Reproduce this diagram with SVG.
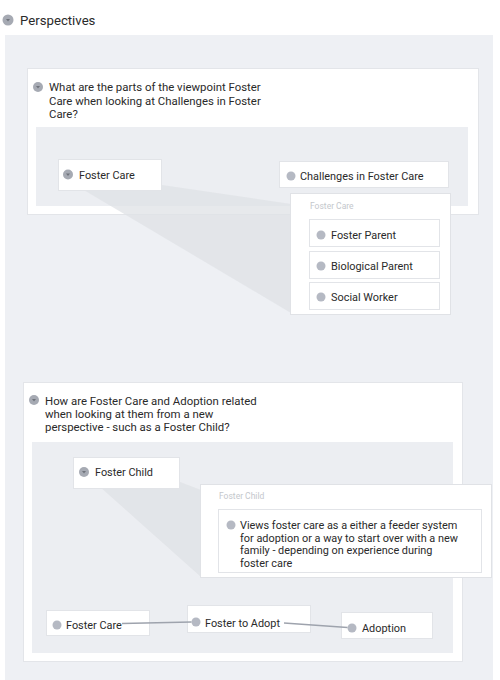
<svg xmlns="http://www.w3.org/2000/svg" width="500" height="680" viewBox="0 0 500 680">
<defs>
<style>
text{font-family:Roboto,"Liberation Sans",sans-serif;fill:#2a2a2a;}
.h{font-size:13.2px;}
.q{font-size:11.4px;}
.n{font-size:10.9px;}
.lbl{font-size:8.5px;fill:#c4c7cc;}
.card{fill:#fff;stroke:#e3e5e9;stroke-width:1;}
.inner{fill:#eceef2;}
.node{fill:#fff;stroke:#e2e4e8;stroke-width:1;}
.pop{fill:#fff;stroke:#e0e2e6;stroke-width:1;}
.dot{fill:#b5b9c3;}
.ic{fill:#a6aab3;}
.tri{fill:#6f737b;}
.wedge{fill:#dfe1e6;opacity:0.75;}
.conn{stroke:#9ea3ad;stroke-width:1.5;fill:none;}
</style>
</defs>
<rect width="500" height="680" fill="#fff"/>
<rect x="5" y="35" width="488" height="645" fill="#eef0f4"/>
<g id="title">
<circle cx="8" cy="20" r="5.5" class="ic"/><path d="M6,19 L10,19 L8,21.5 Z" class="tri"/>
<text x="20" y="24.5" class="h">Perspectives</text>
</g>

<g id="card1">
<rect x="27.5" y="68.5" width="451" height="146" class="card"/>
<circle cx="38" cy="87" r="5" class="ic"/><path d="M36,86 L40,86 L38,88.5 Z" class="tri"/>
<text class="q"><tspan x="49" y="91">What are the parts of the viewpoint Foster</tspan><tspan x="49" y="104.5">Care when looking at Challenges in Foster</tspan><tspan x="49" y="118">Care?</tspan></text>
<rect x="36" y="127" width="432" height="79" class="inner"/>
</g>
<polygon points="72,183 162,185 291,204 291,313" class="wedge"/>
<g id="n-foster-care-1">
<rect x="58.5" y="159.5" width="103" height="31" class="node"/>
<circle cx="68" cy="174.5" r="5" class="ic"/><path d="M66,173.5 L70,173.5 L68,176 Z" class="tri"/>
<text x="79" y="179" class="n">Foster Care</text>
</g>
<g id="n-challenges">
<rect x="279.5" y="161.5" width="169" height="26" class="node"/>
<circle cx="291" cy="176" r="4.5" class="dot"/>
<text x="300" y="180" class="n">Challenges in Foster Care</text>
</g>
<g id="popup1">
<rect x="290.5" y="193.5" width="160" height="121" class="pop"/>
<text x="310" y="209" class="lbl">Foster Care</text>
</g>
<g id="n-foster-parent">
<rect x="309.5" y="219.5" width="130" height="27" class="node"/>
<circle cx="321" cy="235" r="4.5" class="dot"/>
<text x="331" y="239" class="n">Foster Parent</text>
</g>
<g id="n-biological-parent">
<rect x="309.5" y="251.5" width="130" height="27" class="node"/>
<circle cx="321" cy="266" r="4.5" class="dot"/>
<text x="331" y="270" class="n">Biological Parent</text>
</g>
<g id="n-social-worker">
<rect x="309.5" y="282.5" width="130" height="27" class="node"/>
<circle cx="321" cy="297" r="4.5" class="dot"/>
<text x="331" y="301" class="n">Social Worker</text>
</g>

<g id="card2">
<rect x="23.5" y="382.5" width="439" height="279" class="card"/>
<circle cx="34" cy="400" r="5" class="ic"/><path d="M32,399 L36,399 L34,401.5 Z" class="tri"/>
<text class="q"><tspan x="45" y="405">How are Foster Care and Adoption related</tspan><tspan x="45" y="418">when looking at them from a new</tspan><tspan x="45" y="431">perspective - such as a Foster Child?</tspan></text>
<rect x="32" y="442" width="421" height="211" class="inner"/>
</g>
<polygon points="90,478 180,482 201,490 201,577" class="wedge"/>
<g id="n-foster-child">
<rect x="73.5" y="457.5" width="106" height="31" class="node"/>
<circle cx="84" cy="472" r="5" class="ic"/><path d="M82,471 L86,471 L84,473.5 Z" class="tri"/>
<text x="95" y="476" class="n">Foster Child</text>
</g>
<g id="popup2">
<rect x="200.5" y="484.5" width="291" height="93" class="pop"/>
<text x="219" y="499" class="lbl">Foster Child</text>
</g>
<g id="n-views">
<rect x="218.5" y="509.5" width="263" height="63" class="node"/>
<circle cx="231" cy="525" r="4.5" class="dot"/>
<text class="n"><tspan x="240" y="529">Views foster care as a either a feeder system</tspan><tspan x="240" y="541.5">for adoption or a way to start over with a new</tspan><tspan x="240" y="554">family - depending on experience during</tspan><tspan x="240" y="566.5">foster care</tspan></text>
</g>

<g id="n-foster-care-2">
<rect x="46.5" y="610.5" width="103" height="25" class="node"/>
<circle cx="57" cy="625" r="4.5" class="dot"/>
<text x="66" y="629" class="n">Foster Care</text>
</g>
<g id="n-foster-to-adopt">
<rect x="187.5" y="605.5" width="123" height="27" class="node"/>
<circle cx="196" cy="622" r="4.5" class="dot"/>
<text x="205" y="626.5" class="n">Foster to Adopt</text>
</g>
<g id="n-adoption">
<rect x="341.5" y="612.5" width="91" height="26" class="node"/>
<circle cx="352" cy="628" r="4.5" class="dot"/>
<text x="362" y="632" class="n">Adoption</text>
</g>
<g id="connectors">
<path d="M122,623.5 L191.5,622" class="conn"/>
<path d="M284,623 L347.5,627.5" class="conn"/>
</g>
</svg>
